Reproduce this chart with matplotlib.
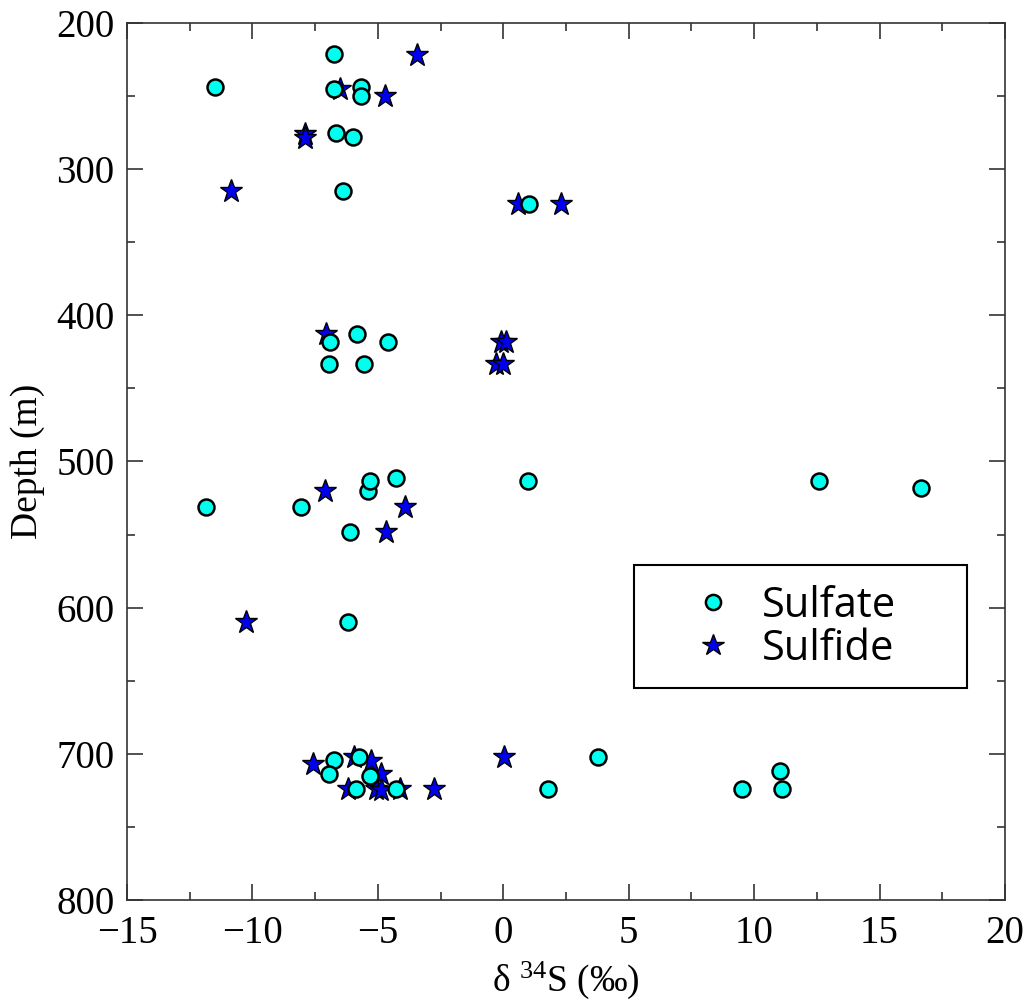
import matplotlib
matplotlib.use("Agg")
import matplotlib.pyplot as plt
from matplotlib.ticker import MultipleLocator
from matplotlib.patches import Rectangle

plt.rcParams['font.family'] = ['Liberation Serif', 'DejaVu Serif']
plt.rcParams['mathtext.default'] = 'regular'

# d34S (permil) and depth (m)
sulfate_d34s = [-6.75, -11.51, -6.73, -5.66, -5.69, -6.66, -5.99, -6.37, 1.01,
                -6.92, -5.82, -4.60, -6.94, -5.54,
                -11.87, -8.05, -5.39, -5.30, -4.29, -6.10, 1.0, 12.57, 16.67,
                -6.19,
                -6.73, -6.95, -5.75, -5.30, -5.89, -4.27, 1.80, 3.77, 9.52, 11.03, 11.10]
sulfate_depth = [221, 244, 245, 244, 250, 275, 278, 315, 324,
                 418, 413, 418, 433, 433,
                 531, 531, 520, 513, 511, 548, 513, 513, 518,
                 610,
                 704, 714, 702, 715, 724, 724, 724, 702, 724, 712, 724]

sulfide_d34s = [-3.44, -6.52, -4.73, -7.92, -7.92, -10.85, 0.59, 2.30,
                -7.06, -0.11, 0.10, -0.28, 0.0,
                -7.10, -3.91, -4.67, -10.27,
                -7.59, -5.95, -5.29, -4.89, -6.19, -5.06, -4.86, -4.1, -2.76, 0.03]
sulfide_depth = [222, 245, 250, 276, 279, 315, 324, 324,
                 413, 418, 418, 433, 433,
                 520, 531, 548, 610,
                 707, 702, 705, 714, 724, 724, 725, 724, 724, 702]

fig = plt.figure(figsize=(10.26, 10), dpi=100)
ax = fig.add_axes([0.1238, 0.1, 0.8557, 0.877])

ax.plot(sulfide_d34s, sulfide_depth, ls='none', marker='*', ms=17, mfc='#0000ee',
        mec='black', mew=1.0, label='Sulfide', zorder=3)
ax.plot(sulfate_d34s, sulfate_depth, ls='none', marker='o', ms=11.5, mfc='#00ffee',
        mec='black', mew=1.8, label='Sulfate', zorder=4)

ax.set_xlim(-15, 20)
ax.set_ylim(800, 200)
ax.xaxis.set_major_locator(MultipleLocator(5))
ax.xaxis.set_minor_locator(MultipleLocator(2.5))
ax.yaxis.set_major_locator(MultipleLocator(100))
ax.yaxis.set_minor_locator(MultipleLocator(50))
ax.tick_params(which='both', direction='in', top=True, right=True, color='#333333', width=1.2)
ax.tick_params(which='major', length=11.5, labelsize=28, pad=9)
ax.tick_params(axis='x', which='major', pad=11)
ax.tick_params(which='minor', length=5.8)
for s in ax.spines.values():
    s.set_color('#333333')
    s.set_linewidth(1.2)

ax.xaxis.set_major_formatter(plt.FuncFormatter(lambda v, p: f"{v:g}".replace('-', '\u2212')))

ax.set_ylabel('Depth (m)', fontsize=27, labelpad=8)
ax.set_xlabel('δ $^{34}$S (‰)', fontsize=27, labelpad=5)

handles, labels = ax.get_legend_handles_labels()
leg = ax.legend(handles[::-1], labels[::-1], loc='center left', bbox_to_anchor=(0.6435, 0.311),
                prop={'family': 'Open Sans', 'size': 30}, frameon=False,
                handlelength=1.0, handletextpad=0.68, labelspacing=0.02,
                borderpad=0, borderaxespad=0, markerscale=0.95)
ax.add_patch(Rectangle((0.577, 0.242), 0.38, 0.14, transform=ax.transAxes, fill=False,
                       edgecolor='black', lw=1.5, zorder=6))

fig.savefig('out.png', dpi=100)
